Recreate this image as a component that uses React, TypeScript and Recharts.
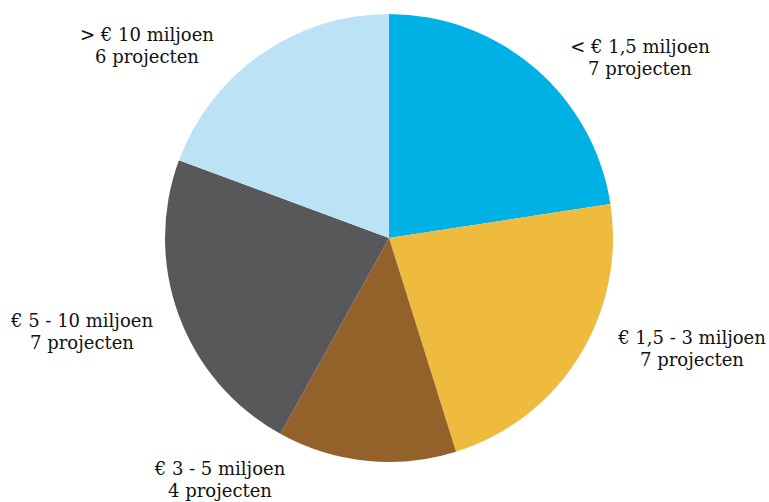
import React from "react";
import { PieChart, Pie, Cell } from "recharts";

const categories = ["< € 1,5 miljoen", "€ 1,5 - 3 miljoen", "€ 3 - 5 miljoen", "€ 5 - 10 miljoen", "> € 10 miljoen"];
const projectCounts = [7, 7, 4, 7, 6];
const countLabels = ["7 projecten", "7 projecten", "4 projecten", "7 projecten", "6 projecten"];

const COLORS = ["#00B1E6", "#EFBB3F", "#93622A", "#58585A", "#BCE3F5"];
// label anchor offsets relative to pie centre (layout only)
const LABEL_OFFSETS: [number, number][] = [
  [251, -185],
  [303, 106],
  [-169, 237],
  [-307, 89],
  [-242, -197],
];

const data = categories.map((c, i) => ({ name: c, value: projectCounts[i], sub: countLabels[i] }));

const renderLabel = (props: any) => {
  const { cx, cy, index } = props;
  const [dx, dy] = LABEL_OFFSETS[index];
  const x = cx + dx;
  const y = cy + dy;
  return (
    <text x={x} y={y} textAnchor="middle" fill="#111" fontFamily="'DejaVu Serif', serif" fontSize={18}>
      <tspan x={x} y={y}>{data[index].name}</tspan>
      <tspan x={x} y={y + 22}>{data[index].sub}</tspan>
    </text>
  );
};

export default function App() {
  return (
    <div style={{ position: "absolute", left: 0, top: 0, background: "#fff" }}>
      <PieChart width={769} height={502} margin={{ top: 0, right: 0, bottom: 0, left: 0 }}>
        <Pie
          data={data}
          dataKey="value"
          cx={389}
          cy={238}
          outerRadius={224}
          startAngle={90}
          endAngle={-270}
          stroke="none"
          label={renderLabel}
          labelLine={false}
          isAnimationActive={false}
        >
          {data.map((d, i) => (
            <Cell key={d.name} fill={COLORS[i]} />
          ))}
        </Pie>
      </PieChart>
    </div>
  );
}
